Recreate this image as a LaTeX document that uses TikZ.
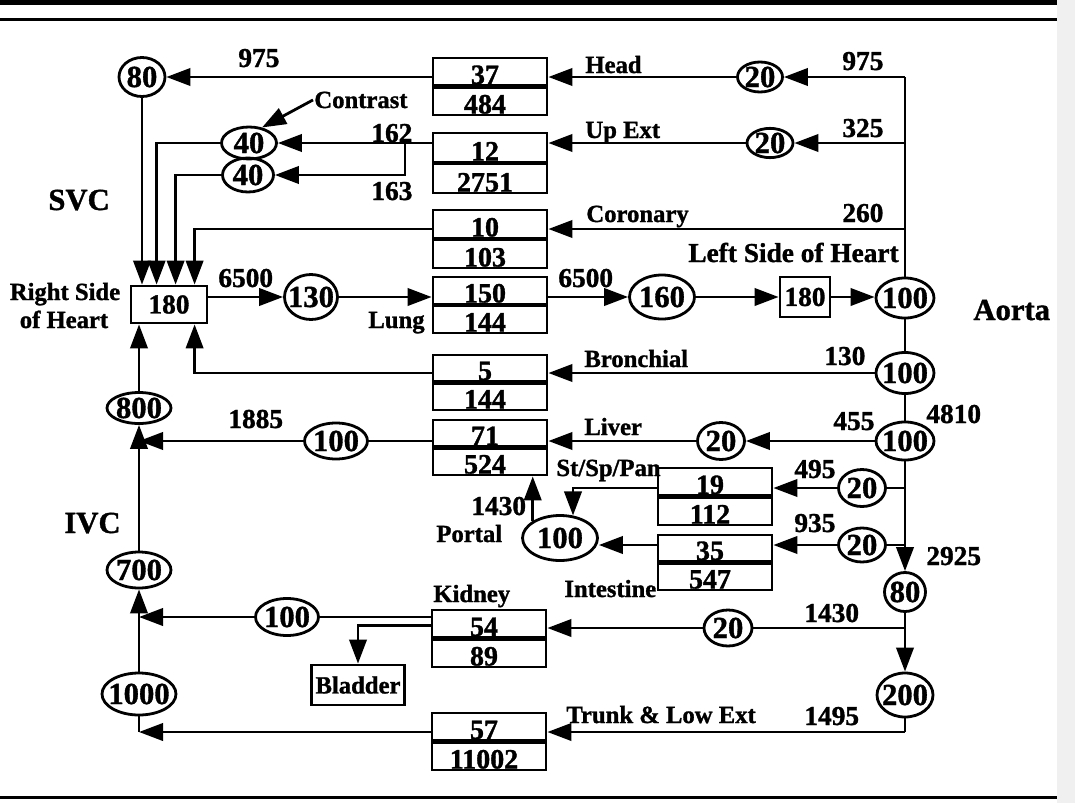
\documentclass[tikz,border=0pt]{standalone}
\usepackage{fontspec}
\setmainfont{Liberation Serif}[BoldFeatures={FakeBold=1.2}]
\usetikzlibrary{arrows.meta,shapes.geometric,calc}
\newcommand\pxu{0.75pt}
\newcommand\wfont{\fontsize{18.5}{20}\selectfont\bfseries}
\newcommand\nfont{\fontsize{20.5}{22}\selectfont\bfseries}
\newcommand\cfont{\fontsize{21}{22}\selectfont\bfseries}
\newcommand\efont{\fontsize{23}{24}\selectfont\bfseries}
\newcommand\bfont{\fontsize{23}{25}\selectfont\bfseries}
% two-cell compartment box: name, left x, top y, bottom y, top text, bottom text
\newcommand\twobox[6]{%
  \pgfmathsetmacro\cellh{(#4-#3)/2-1}%
  \node[cell, minimum height=\cellh*0.75pt] (#1T) at ({#2+57},{#3+\cellh/2}) {};
  \node[cell, minimum height=\cellh*0.75pt] (#1B) at ({#2+57},{#4-\cellh/2}) {};
  \node[ctext] (#1Tt) at ({#2+52},{#3+\cellh-1.5}) {#5};
  \node[ctext] (#1Bt) at ({#2+52},{#4-1.5}) {#6};
}
% ellipse: name, x, y, width px, height px, text
\newcommand\ellnd[6]{%
  \node[ell, minimum width=#4*0.75pt, minimum height=#5*0.75pt] (#1) at (#2,#3) {\makebox[0pt]{#6}};
}
\begin{document}
\begin{tikzpicture}[x=0.75pt,y=-0.75pt, line width=2.1pt,
  arr/.style={-{Triangle[length=18pt,width=13pt]}},
  ell/.style={ellipse, draw, inner sep=0pt, font=\efont},
  cell/.style={rectangle, draw, inner sep=0pt, minimum width=114*0.75pt},
  sbox/.style={rectangle, draw, inner sep=0pt, font=\nfont},
  lbl/.style={anchor=base west, inner sep=0pt, font=\wfont},
  num/.style={anchor=base west, inner sep=0pt, font=\nfont},
  big/.style={anchor=base west, inner sep=0pt, font=\bfont},
  ctext/.style={anchor=base, inner sep=0pt, font=\cfont}]
\useasboundingbox (0,0) rectangle (1075,803);
\fill[black!6] (1057,0) rectangle (1075,803);
\fill (0,0) rectangle (1057,4.5);
\draw[line width=1.8pt] (0,19.5) -- (1057,19.5);
\draw[line width=2pt] (0,797.5) -- (1057,797.5);

% compartment boxes
\twobox{head}{433}{58}{115}{37}{484}
\twobox{up}{433}{133}{193}{12}{2751}
\twobox{cor}{433}{210}{268}{10}{103}
\twobox{lung}{433}{277}{333}{150}{144}
\twobox{bron}{433}{355}{410}{5}{144}
\twobox{liv}{433}{420}{475}{71}{524}
\twobox{sp}{658}{468}{525}{19}{112}
\twobox{int}{658}{535}{590}{35}{547}
\twobox{kid}{432}{610}{667}{54}{89}
\twobox{trk}{432}{713}{770}{57}{11002}

\node[sbox, minimum width=76*\pxu, minimum height=37*\pxu] (hb) at (169,304.5) {180};
\node[sbox, minimum width=50*\pxu, minimum height=40*\pxu] (lh) at (805,297) {180};
\node[sbox, minimum width=93*\pxu, minimum height=40*\pxu, font=\wfont] (bl) at (358,685) {Bladder};

% ellipses
\ellnd{e80}{142}{77}{46}{39}{80}
\ellnd{e40a}{249}{143}{55}{32}{40}
\ellnd{e40b}{248}{175}{51}{34}{40}
\ellnd{e20h}{760}{77}{45}{30}{20}
\ellnd{e20u}{770}{143}{46}{29}{20}
\ellnd{e130}{311}{297}{53}{45}{130}
\ellnd{e160}{662}{297}{65}{44}{160}
\ellnd{a1}{905}{298}{58}{40}{100}
\ellnd{a2}{905}{373}{58}{41}{100}
\ellnd{a3}{905}{441}{58}{38}{100}
\ellnd{e20l}{721}{441}{47}{37}{20}
\ellnd{e100l}{336}{441}{63}{36}{100}
\ellnd{e800}{139}{408}{64}{31}{800}
\ellnd{e700}{139}{570}{64}{36}{700}
\ellnd{e1000}{139}{694}{74}{42}{1000}
\ellnd{e20s}{862}{488}{47}{37}{20}
\ellnd{e20i}{862}{545}{47}{34}{20}
\ellnd{portal}{560}{538}{75}{45}{100}
\ellnd{a80}{905}{592}{41}{39}{80}
\ellnd{e20k}{728}{628}{48}{36}{20}
\ellnd{e100k}{287}{617}{63}{37}{100}
\ellnd{a200}{905}{695}{56}{44}{200}

% labels
\node[num] (n975a) at (237,67) {975};
\node[lbl] (contrast) at (313,108) {Contrast};
\node[num] (n162) at (370,142) {162};
\node[num] (n163) at (370,200) {163};
\node[big] (svc) at (47,210) {SVC};
\node[lbl] (lhead) at (584,73) {Head};
\node[lbl] (lup) at (584,138) {Up Ext};
\node[lbl] (lcor) at (585,222) {Coronary};
\node[num] (n975b) at (841,70) {975};
\node[num] (n325) at (841,137) {325};
\node[num] (n260) at (841,222) {260};
\node[num] (lsh) at (687,262) {Left Side of Heart};
\node[lbl, anchor=base] (rsh1) at (65,300) {Right Side};
\node[lbl, anchor=base] (rsh2) at (64,328) {of Heart};
\node[num] (n6500a) at (217,287) {6500};
\node[lbl] (llung) at (367,328) {Lung};
\node[num] (n6500b) at (557,287) {6500};
\node[big] (laorta) at (972,320) {Aorta};
\node[lbl] (lbron) at (583,367) {Bronchial};
\node[num] (n130) at (823,365) {130};
\node[num] (n1885) at (227,428) {1885};
\node[lbl] (lliv) at (583,435) {Liver};
\node[num] (n455) at (832,430) {455};
\node[num] (n4810) at (925,423) {4810};
\node[lbl] (lsp) at (555,476) {St/Sp/Pan};
\node[num] (n495) at (793,478) {495};
\node[num] (n1430p) at (470,515) {1430};
\node[lbl] (lportal) at (435,542) {Portal};
\node[big] (livc) at (63,533) {IVC};
\node[num] (n935) at (793,532) {935};
\node[lbl] (lint) at (563,597) {Intestine};
\node[num] (n2925) at (925,565) {2925};
\node[lbl] (lkid) at (432,602) {Kidney};
\node[num] (n1430k) at (803,622) {1430};
\node[lbl] (ltrk) at (565,723) {Trunk \& Low Ext};
\node[num] (n1495) at (803,725) {1495};

% aorta trunk
\coordinate (atop) at (905,77);
\coordinate (aup) at (905,143);
\coordinate (acor) at (905,229);
\coordinate (asp) at (905,488);
\coordinate (ain) at (905,545);
\coordinate (akid) at (905,628);
\coordinate (abot) at (905,732);
\coordinate (j162) at (405,143);
\draw (atop) -- (a1.north);
\draw (a1.south) -- (a2.north);
\draw (a2.south) -- (a3.north);
\draw[arr] (a3.south) -- (a80.north);
\draw[arr] (a80.south) -- (a200.north);
\draw (a200.south) -- (abot);

% head
\draw[arr] (atop) -- (e20h.east);
\draw[arr] (e20h.west) -- (e20h.west -| headT.east);
\draw[arr] (e20h.west -| headT.west) -- (e80.east);
\draw[arr] (e80.south) -- (e80.south |- hb.north);

% upper extremities
\draw[arr] (aup) -- (e20u.east);
\draw[arr] (e20u.west) -- (e20u.west -| upT.east);
\draw[arr] (e20u.west -| upT.west) -- (e40a.east);
\draw[arr] (j162) |- (e40b.east);
\draw[arr] (e40a.west) -| ($(hb.north west)+(27,0)$);
\draw[arr] (e40b.west) -| ($(hb.north west)+(46,0)$);
\draw[arr] (contrast.west) -- (e40a.50);

% coronary
\draw[arr] (acor) -- (acor -| corT.east);
\draw[arr] (acor -| corT.west) -| ($(hb.north west)+(65,0)$);

% lung
\draw[arr] (hb.east |- e130.west) -- (e130.west);
\draw[arr] (e130.east) -- (e130.east -| lungT.west);
\draw[arr] (e130.east -| lungT.east) -- (e160.west);
\draw[arr] (e160.east) -- (e160.east -| lh.west);
\draw[arr] (e160.east -| lh.east) -- (e160.east -| a1.west);

% bronchial
\draw[arr] (a2.west) -- (a2.west -| bronT.east);
\draw[arr] (a2.west -| bronT.west) -| ($(hb.south west)+(65,0)$);

% liver and IVC
\draw[arr] (a3.west) -- (e20l.east);
\draw[arr] (e20l.west) -- (e20l.west -| livT.east);
\draw (e20l.west -| livT.west) -- (e100l.east);
\draw[arr] (e100l.west) -- (e100l.west -| e800.south);
\draw[arr] (e800.north) -- (e800.north |- hb.south);
\draw[arr] (e700.north) -- (e800.south);
\draw[arr] (e1000.north) -- (e700.south);

% stomach / spleen / pancreas
\draw (asp) -- (e20s.east);
\draw[arr] (e20s.west) -- (e20s.west -| spT.east);
\draw[arr] (e20s.west -| spT.west) -| (portal.60);
\draw[arr] (portal.148) -- (portal.148 |- livB.south);

% intestine
\draw (ain) -- (e20i.east);
\draw[arr] (e20i.west) -- (e20i.west -| intT.east);
\draw[arr] (e20i.west -| intT.west) -- (e20i.west -| portal.east);

% kidney
\draw (akid) -- (e20k.east);
\draw[arr] (e20k.west) -- (e20k.west -| kidT.east);
\draw (e100k.east -| kidT.west) -- (e100k.east);
\draw[arr] (e100k.west) -- (e100k.west -| e700.south);
\draw[arr] ($(kidT.west)+(0,2)$) -| (bl.north);

% trunk and lower extremities
\draw[arr] (abot) -- (abot -| trkT.east);
\draw[arr] (abot -| trkT.west) -- (abot -| e1000.south);
\draw (e1000.south) -- (abot -| e1000.south);
\end{tikzpicture}
\end{document}
